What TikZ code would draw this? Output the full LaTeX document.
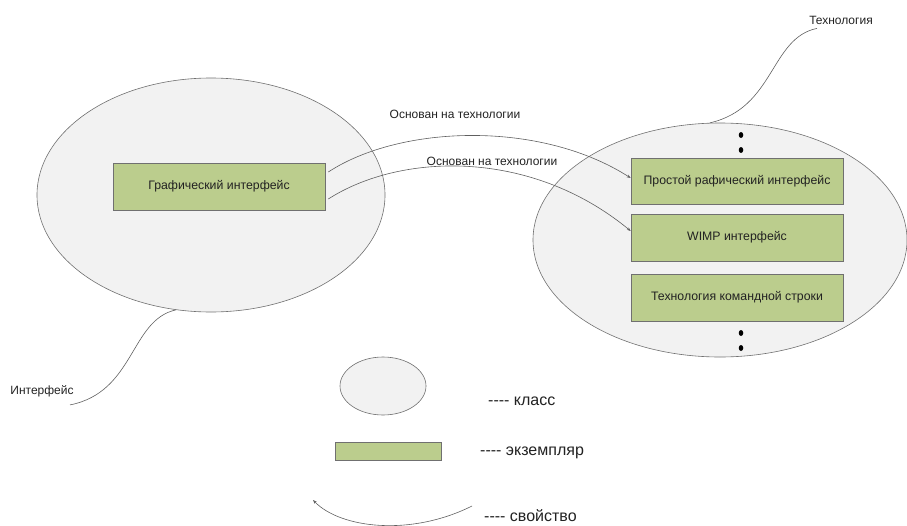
\documentclass[tikz,border=0pt]{standalone}
\usepackage{fontspec}
\setmainfont{Liberation Sans}
\usetikzlibrary{shapes.geometric,calc,arrows.meta}
\definecolor{cls}{HTML}{F2F2F2}
\definecolor{edge}{HTML}{707070}
\definecolor{inst}{HTML}{BBCD8D}
\definecolor{ln}{HTML}{606060}
\definecolor{txt}{HTML}{222222}
\tikzset{
  classnode/.style={ellipse, draw=edge, fill=cls, line width=0.6pt, inner sep=0pt},
  instbox/.style={rectangle, draw=edge, fill=inst, line width=0.6pt, inner sep=0pt,
    minimum width=212pt, minimum height=47pt, text=txt, font=\fontsize{12.3}{14}\selectfont},
  lbl/.style={text=txt, inner sep=0pt, font=\fontsize{12}{14}\selectfont},
  leg/.style={text=txt, inner sep=0pt, anchor=west, font=\fontsize{16}{19}\selectfont},
  conn/.style={draw=ln, line width=0.6pt},
  arr/.style={conn, -{Stealth[length=4pt,width=3pt]}},
  dotmark/.style={ellipse, fill=black, inner sep=0pt, minimum width=4.5pt, minimum height=6pt}
}
\begin{document}
\begin{tikzpicture}[x=1pt,y=-1pt]
\useasboundingbox (0,0) rectangle (907,525);
% classes
\node[classnode, minimum width=348pt, minimum height=234pt] (le) at (211,195) {};
\node[classnode, minimum width=374pt, minimum height=234pt] (re) at (720,240) {};
% instances
\node[instbox] (g) at (219,186.5) {Графический интерфейс};
\node[instbox, minimum height=46pt] (b1) at (737,181) {Простой рафический интерфейс};
\node[instbox] (b2) at (737,237.5) {WIMP интерфейс};
\node[instbox] (b3) at (737,297.5) {Технология командной строки};
% dots
\node[dotmark] (d1) at (741,135) {};
\node[dotmark] (d2) at (741,150) {};
\node[dotmark] (d3) at (741,333) {};
\node[dotmark] (d4) at (741,348) {};
% relation labels
\node[lbl] (l1) at (455,114) {Основан на технологии};
\node[lbl] (l2) at (492,161) {Основан на технологии};
% relations
\draw[arr] ($(g.east)+(3,-14.5)$) .. controls (400,125) and (540,120) .. ($(b1.west)+(0,-3)$);
\draw[arr] ($(g.east)+(3,12.5)$) .. controls (400,153) and (530,148) .. ($(b2.west)+(0,-6.5)$);
% class labels
\node[lbl] (tl) at (841,20) {Технология};
\node[lbl] (il) at (42,391) {Интерфейс};
\draw[conn] ($(tl.south)+(-24,4)$) .. controls (770,38) and (775,108) .. (re.95);
\draw[conn] (le.253) .. controls (130,320) and (135,392) .. ($(il.south)+(28,8)$);
% legend
\node[classnode, minimum width=86pt, minimum height=58pt] (lc) at (383,386) {};
\node[leg] (lct) at (488,401) {-{}-{}-{}- класс};
\node[instbox, minimum width=106pt, minimum height=18pt] (li) at (388,451) {};
\node[leg] (lit) at (480,453) {-{}-{}-{}- экземпляр};
\coordinate (pa) at (472,506);
\coordinate (pb) at (313,500);
\draw[arr] (pa) .. controls (410,537) and (340,528) .. (pb);
\node[leg] (lpt) at (484,516) {-{}-{}-{}- свойство};
\end{tikzpicture}
\end{document}
